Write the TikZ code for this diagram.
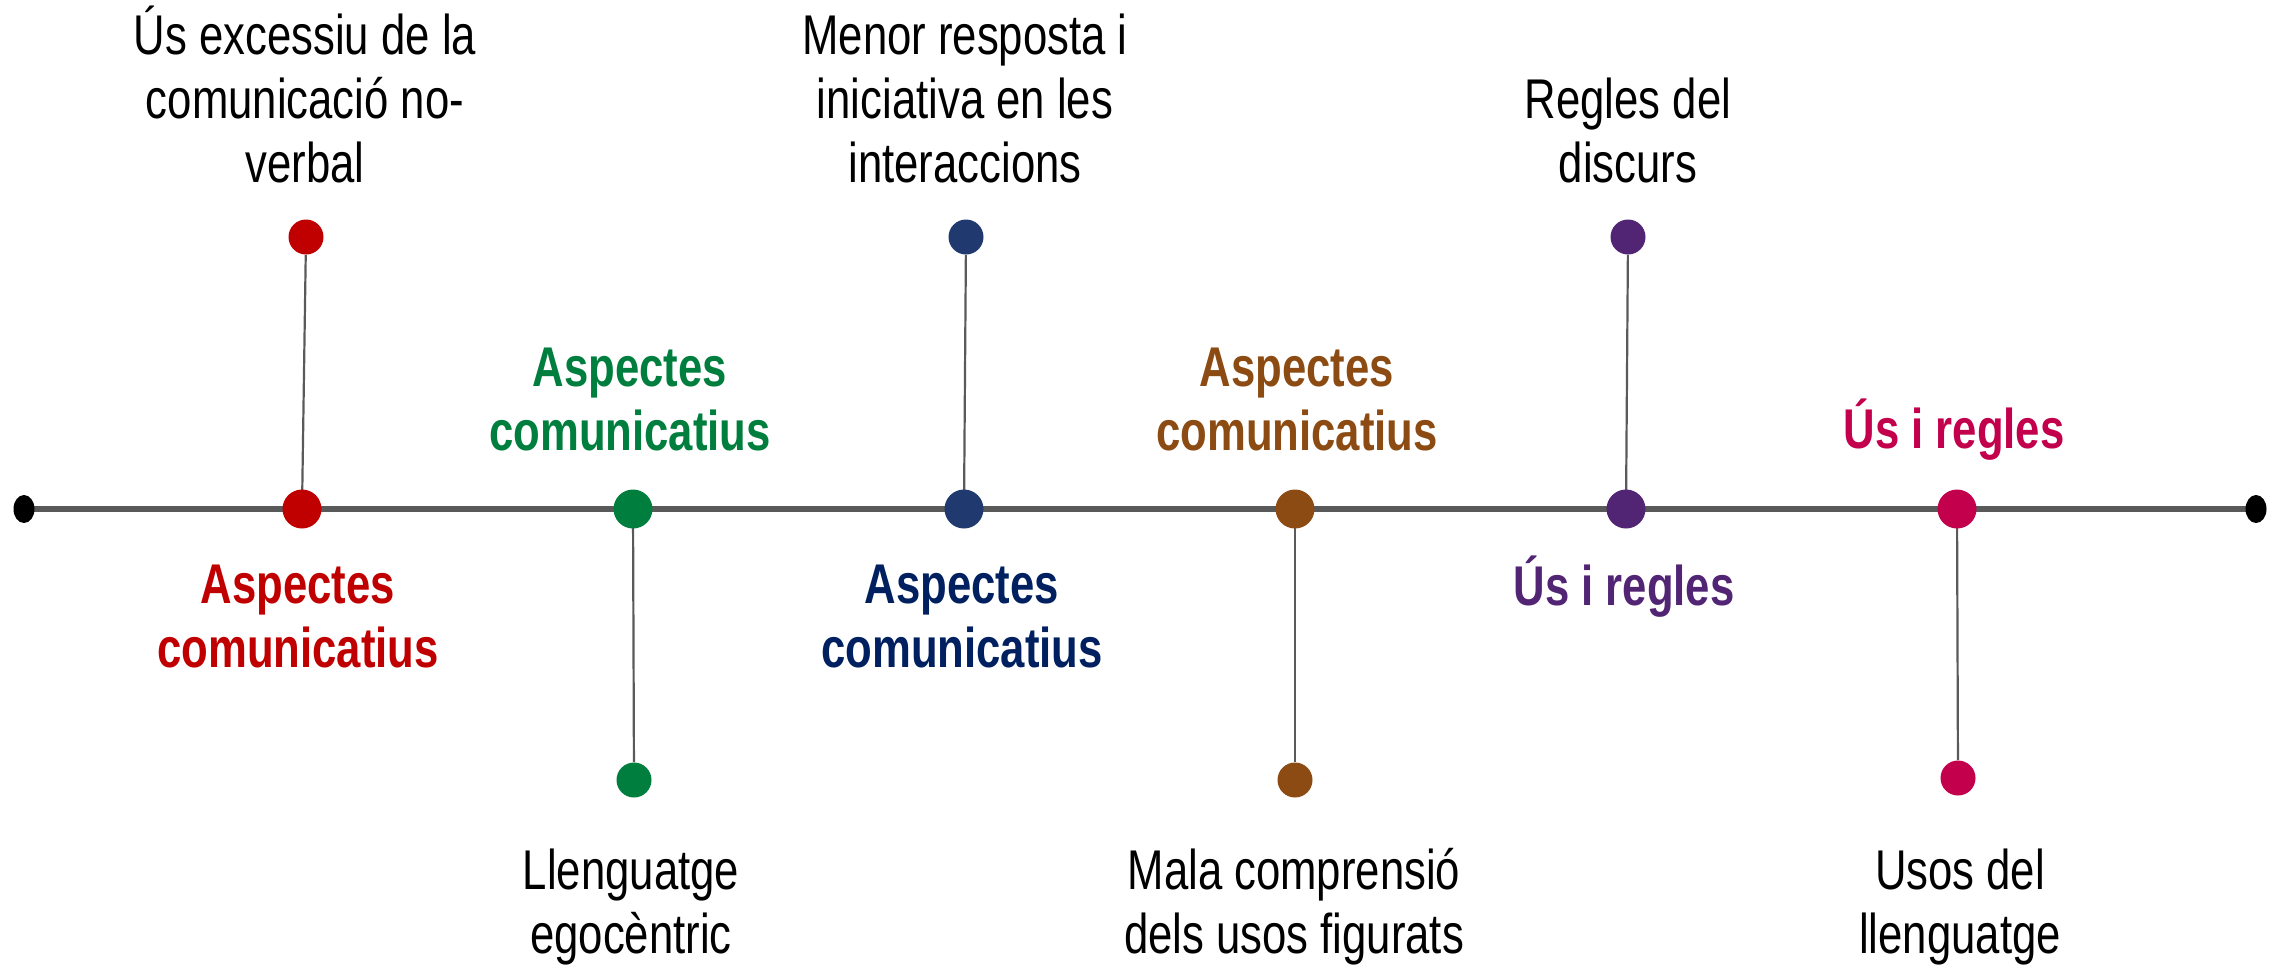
\documentclass[tikz,border=0pt]{standalone}
\usepackage{fontspec}
\setmainfont{Liberation Sans}[FakeStretch=0.78]
\usetikzlibrary{shapes.geometric,backgrounds}
\definecolor{cRed}{HTML}{C00000}
\definecolor{cGreen}{HTML}{007E3E}
\definecolor{cNavyDot}{HTML}{203A70}
\definecolor{cNavy}{HTML}{002060}
\definecolor{cBrown}{HTML}{8B4B12}
\definecolor{cPurple}{HTML}{522574}
\definecolor{cCrimson}{HTML}{C3004C}
\definecolor{cAxis}{HTML}{595959}
\definecolor{cStalk}{HTML}{5A5A5A}
\tikzset{
  bigdot/.style={circle,fill=#1,inner sep=0pt,minimum size=19.5pt},
  smalldot/.style={circle,fill=#1,inner sep=0pt,minimum size=17.5pt},
  enddot/.style={ellipse,fill=black,inner sep=0pt,minimum width=10.5pt,minimum height=14pt},
  lbl/.style={font=\fontsize{28}{32}\selectfont,align=center,anchor=base,inner sep=0pt},
  hd/.style={lbl,font=\fontsize{28}{32}\selectfont\bfseries,text=#1},
  stalk/.style={cStalk,line width=1.1pt},
}
\begin{document}
\begin{tikzpicture}[x=0.5pt,y=-0.5pt]
\useasboundingbox (0,0) rectangle (2279,965);
% axis ends and points on it
\node[enddot] (L) at (24,509) {};
\node[enddot] (R) at (2256,509) {};
\node[bigdot=cRed]     (m1) at (302,509) {};
\node[bigdot=cGreen]   (m2) at (633,509) {};
\node[bigdot=cNavyDot] (m3) at (964,509) {};
\node[bigdot=cBrown]   (m4) at (1295,509) {};
\node[bigdot=cPurple]  (m5) at (1626,509) {};
\node[bigdot=cCrimson] (m6) at (1957,509) {};
% points off the axis
\node[smalldot=cRed]     (p1) at (306,237) {};
\node[smalldot=cGreen]   (p2) at (634,780) {};
\node[smalldot=cNavyDot] (p3) at (966,237) {};
\node[smalldot=cBrown]   (p4) at (1295,780) {};
\node[smalldot=cPurple]  (p5) at (1628,237) {};
\node[smalldot=cCrimson] (p6) at (1958,778) {};
\begin{pgfonlayer}{background}
\draw[cAxis,line width=3.2pt] (L.center) -- (R.center);
\draw[stalk] (p1) -- (m1.center);
\draw[stalk] (p2) -- (m2.center);
\draw[stalk] (p3) -- (m3.center);
\draw[stalk] (p4) -- (m4.center);
\draw[stalk] (p5) -- (m5.center);
\draw[stalk] (p6) -- (m6.center);
\end{pgfonlayer}
% headings (placed by the baseline of their last line)
\node[hd=cRed]     (h1) at (298,667)  {Aspectes\\comunicatius};
\node[hd=cGreen]   (h2) at (630,450)  {Aspectes\\comunicatius};
\node[hd=cNavy]    (h3) at (962,667)  {Aspectes\\comunicatius};
\node[hd=cBrown]   (h4) at (1297,450) {Aspectes\\comunicatius};
\node[hd=cPurple]  (h5) at (1624,605) {Ús i regles};
\node[hd=cCrimson] (h6) at (1954,448) {Ús i regles};
% descriptions
\node[lbl] (t1) at (305,182)  {Ús excessiu de la\\comunicació no-\\verbal};
\node[lbl] (t2) at (631,953)  {Llenguatge\\egocèntric};
\node[lbl] (t3) at (965,182)  {Menor resposta i\\iniciativa en les\\interaccions};
\node[lbl] (t4) at (1294,953) {Mala comprensió\\dels usos figurats};
\node[lbl] (t5) at (1628,182) {Regles del\\discurs};
\node[lbl] (t6) at (1960,953) {Usos del\\llenguatge};
\end{tikzpicture}
\end{document}
